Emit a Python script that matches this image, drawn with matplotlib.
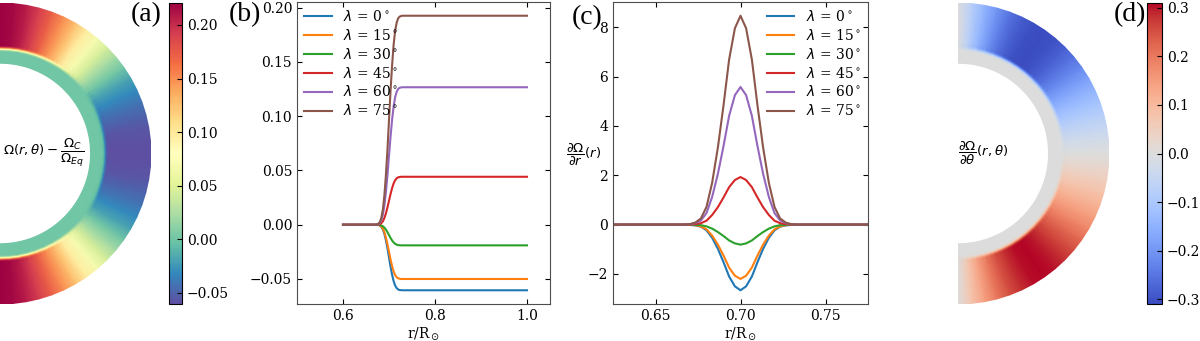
import numpy as np
import matplotlib
matplotlib.use("Agg")
import matplotlib.pyplot as plt

plt.rcParams['font.family'] = ['DejaVu Serif']
plt.rcParams['mathtext.fontset'] = 'dejavusans'

# ---------------- data ----------------
latitudes = [0, 15, 30, 45, 60, 75]
line_colors = ['#1f77b4', '#ff7f0e', '#2ca02c', '#d62728', '#9467bd', '#8c564b']

r_grid = [0.6000, 0.6667, 0.6700, 0.6733, 0.6767, 0.6800, 0.6833, 0.6867,
          0.6900, 0.6933, 0.6967, 0.7000, 0.7033, 0.7067, 0.7100, 0.7133,
          0.7167, 0.7200, 0.7233, 0.7267, 0.7300, 0.7333, 1.0000]

# panel (b): Omega(r) - Omega_C / Omega_Eq
omega_lat0 = [0, 0, 0, -0.0001, -0.0002, -0.0007, -0.0020, -0.0044, -0.0085, -0.0144,
              -0.0218, -0.0302, -0.0386, -0.0460, -0.0519, -0.0560, -0.0584, -0.0597,
              -0.0602, -0.0603, -0.0604, -0.0604, -0.0604]
omega_lat15 = [0, 0, 0, -0.0001, -0.0002, -0.0006, -0.0016, -0.0037, -0.0070, -0.0119,
               -0.0181, -0.0250, -0.0319, -0.0381, -0.0430, -0.0463, -0.0484, -0.0494,
               -0.0498, -0.0500, -0.0500, -0.0500, -0.0500]
omega_lat30 = [0, 0, 0, 0, -0.0001, -0.0002, -0.0006, -0.0014, -0.0027, -0.0045,
               -0.0069, -0.0095, -0.0121, -0.0145, -0.0163, -0.0176, -0.0184, -0.0188,
               -0.0189, -0.0190, -0.0190, -0.0190, -0.0190]
omega_lat45 = [0, 0, 0, 0, 0.0002, 0.0005, 0.0014, 0.0032, 0.0062, 0.0105,
               0.0160, 0.0221, 0.0282, 0.0337, 0.0380, 0.0410, 0.0428, 0.0437,
               0.0440, 0.0442, 0.0442, 0.0442, 0.0442]
omega_lat60 = [0, 0, 0, 0.0001, 0.0005, 0.0015, 0.0041, 0.0093, 0.0178, 0.0301,
               0.0458, 0.0634, 0.0809, 0.0966, 0.1089, 0.1174, 0.1226, 0.1252,
               0.1262, 0.1266, 0.1267, 0.1267, 0.1267]
omega_lat75 = [0, 0, 0, 0.0002, 0.0008, 0.0023, 0.0063, 0.0141, 0.0270, 0.0458,
               0.0696, 0.0963, 0.1230, 0.1468, 0.1656, 0.1785, 0.1863, 0.1903,
               0.1918, 0.1924, 0.1926, 0.1926, 0.1926]

# panel (c): dOmega/dr
domega_lat0 = [0, 0, -0.01, -0.03, -0.08, -0.23, -0.53, -0.98, -1.52, -2.10, -2.50,
               -2.66, -2.50, -2.10, -1.52, -0.98, -0.53, -0.23, -0.08, -0.03, -0.01, 0, 0]
domega_lat15 = [0, 0, 0.00, -0.02, -0.07, -0.19, -0.44, -0.81, -1.25, -1.74, -2.07,
                -2.20, -2.07, -1.74, -1.25, -0.81, -0.44, -0.19, -0.07, -0.02, 0.00, 0, 0]
domega_lat30 = [0, 0, 0.00, -0.01, -0.02, -0.07, -0.16, -0.30, -0.46, -0.64, -0.76,
                -0.81, -0.76, -0.64, -0.46, -0.30, -0.16, -0.07, -0.02, -0.01, 0.00, 0, 0]
domega_lat45 = [0, 0, 0.00, 0.02, 0.06, 0.16, 0.39, 0.71, 1.10, 1.52, 1.81,
                1.93, 1.81, 1.52, 1.10, 0.71, 0.39, 0.16, 0.06, 0.02, 0.00, 0, 0]
domega_lat60 = [0, 0, 0.01, 0.06, 0.17, 0.47, 1.12, 2.06, 3.18, 4.41, 5.25,
                5.58, 5.25, 4.41, 3.18, 2.06, 1.12, 0.47, 0.17, 0.06, 0.01, 0, 0]
domega_lat75 = [0, 0, 0.02, 0.08, 0.25, 0.72, 1.69, 3.13, 4.83, 6.69, 7.96,
                8.47, 7.96, 6.69, 4.83, 3.13, 1.69, 0.72, 0.25, 0.08, 0.02, 0, 0]

# maps (a) and (d): radial tachocline fraction and surface latitude profiles
tacho_frac = [0, 0, 0.0001, 0.0010, 0.0039, 0.0121, 0.0325, 0.0732, 0.1404, 0.2376,
              0.3613, 0.5000, 0.6387, 0.7624, 0.8596, 0.9268, 0.9675, 0.9879,
              0.9961, 0.9990, 0.9999, 1.0, 1.0]
lat_north = [0, 5, 10, 15, 20, 25, 30, 35, 40, 45, 50, 55, 60, 65, 70, 75, 80, 85, 90]
omega_surface_north = [-0.0604, -0.0593, -0.0561, -0.0500, -0.0423, -0.0312, -0.0190,
                       0.0004, 0.0209, 0.0442, 0.0696, 0.0964, 0.1267, 0.1492,
                       0.1727, 0.1926, 0.2077, 0.2171, 0.2205]
dtheta_surface_north = [0.0, -0.024, -0.050, -0.078, -0.110, -0.145, -0.181, -0.218,
                        -0.252, -0.281, -0.301, -0.310, -0.305, -0.285, -0.251,
                        -0.202, -0.142, -0.073, 0.0]

omega_series = [omega_lat0, omega_lat15, omega_lat30, omega_lat45, omega_lat60, omega_lat75]
domega_series = [domega_lat0, domega_lat15, domega_lat30, domega_lat45, domega_lat60, domega_lat75]

# ---------------- figure ----------------
W, H = 1200, 341
fig = plt.figure(figsize=(W / 100, H / 100), dpi=100)


def fr(x0, y0, x1, y1):
    return [x0 / W, 1 - y1 / H, (x1 - x0) / W, (y1 - y0) / H]


lat_full = [-v for v in lat_north[::-1]] + lat_north[1:]
omega_full = omega_surface_north[::-1] + omega_surface_north[1:]
dtheta_full = [-v for v in dtheta_surface_north[::-1]] + dtheta_surface_north[1:]

R, L = np.meshgrid(np.array(r_grid), np.deg2rad(lat_full), indexing='ij')
X = R * np.cos(L)
Y = R * np.sin(L)


def annulus(ax, values, cmap, vmin, vmax):
    C = np.outer(tacho_frac, values)
    pm = ax.pcolormesh(X, Y, C, shading='gouraud', cmap=cmap, vmin=vmin, vmax=vmax)
    ax.set_xlim(0, 1.0)
    ax.set_ylim(-1.0, 1.0)
    ax.axis('off')
    return pm


# (a)
axA = fig.add_axes(fr(0, 3, 151, 304))
pmA = annulus(axA, omega_full, 'Spectral_r', min(omega_full), max(omega_full))
caxA = fig.add_axes(fr(169, 3, 182, 304))
cbA = fig.colorbar(pmA, cax=caxA)
cbA.set_ticks([-0.05, 0.0, 0.05, 0.10, 0.15, 0.20])
caxA.tick_params(direction='in', labelsize=10)
fig.text(3 / W, 1 - 153 / H, r'$\Omega(r,\theta) - \dfrac{\Omega_C}{\Omega_{Eq}}$',
         ha='left', va='center', fontsize=9.5)
fig.text(146 / W, 1 - 2 / H, '(a)', ha='center', va='top', fontsize=20,
         family='Liberation Serif')

legend_kw = dict(frameon=False, fontsize=10, borderaxespad=0.1,
                 handlelength=2.0, labelspacing=0.28)

# (b)
axB = fig.add_axes(fr(297, 2, 550, 304))
for lat, col, ys in zip(latitudes, line_colors, omega_series):
    axB.plot(r_grid, ys, color=col, lw=1.5, label=r'$\lambda$ = %d$^\circ$' % lat)
axB.set_xlim(0.5, 1.05)
axB.set_xticks([0.6, 0.8, 1.0])
axB.set_yticks([-0.05, 0.0, 0.05, 0.10, 0.15, 0.20])
axB.set_xlabel(r'r/R$_\odot$', fontsize=10, labelpad=2)
axB.legend(loc='upper left', **legend_kw)
fig.text(245 / W, 1 - 2 / H, '(b)', ha='center', va='top', fontsize=20,
         family='Liberation Serif')

# (c)
axC = fig.add_axes(fr(613, 2, 868, 304))
for lat, col, ys in zip(latitudes, line_colors, domega_series):
    axC.plot(r_grid, ys, color=col, lw=1.5, label=r'$\lambda$ = %d$^\circ$' % lat)
axC.set_xlim(0.625, 0.775)
axC.set_xticks([0.65, 0.70, 0.75])
axC.set_yticks([-2, 0, 2, 4, 6, 8])
axC.set_xlabel(r'r/R$_\odot$', fontsize=10, labelpad=2)
axC.legend(loc='upper right', **legend_kw)
fig.text(584 / W, 1 - 155 / H, r'$\dfrac{\partial\Omega}{\partial r}(r)$',
         ha='center', va='center', fontsize=9.5)
fig.text(587 / W, 1 - 5 / H, '(c)', ha='center', va='top', fontsize=20,
         family='Liberation Serif')

for ax in (axB, axC):
    ax.tick_params(direction='in', top=True, right=True, labelsize=10)
    for s in ax.spines.values():
        s.set_color('0.3')

# (d)
axD = fig.add_axes(fr(958, 3, 1109, 304))
vmaxD = max(abs(v) for v in dtheta_full)
pmD = annulus(axD, dtheta_full, 'coolwarm', -vmaxD, vmaxD)
caxD = fig.add_axes(fr(1147, 3, 1162, 304))
cbD = fig.colorbar(pmD, cax=caxD)
cbD.set_ticks([-0.3, -0.2, -0.1, 0.0, 0.1, 0.2, 0.3])
caxD.tick_params(direction='in', labelsize=10)
fig.text(958 / W, 1 - 153 / H, r'$\dfrac{\partial\Omega}{\partial\theta}(r,\theta)$',
         ha='left', va='center', fontsize=9.5)
fig.text(1130 / W, 1 - 2 / H, '(d)', ha='center', va='top', fontsize=20,
         family='Liberation Serif')

fig.savefig('out.png', dpi=100)
